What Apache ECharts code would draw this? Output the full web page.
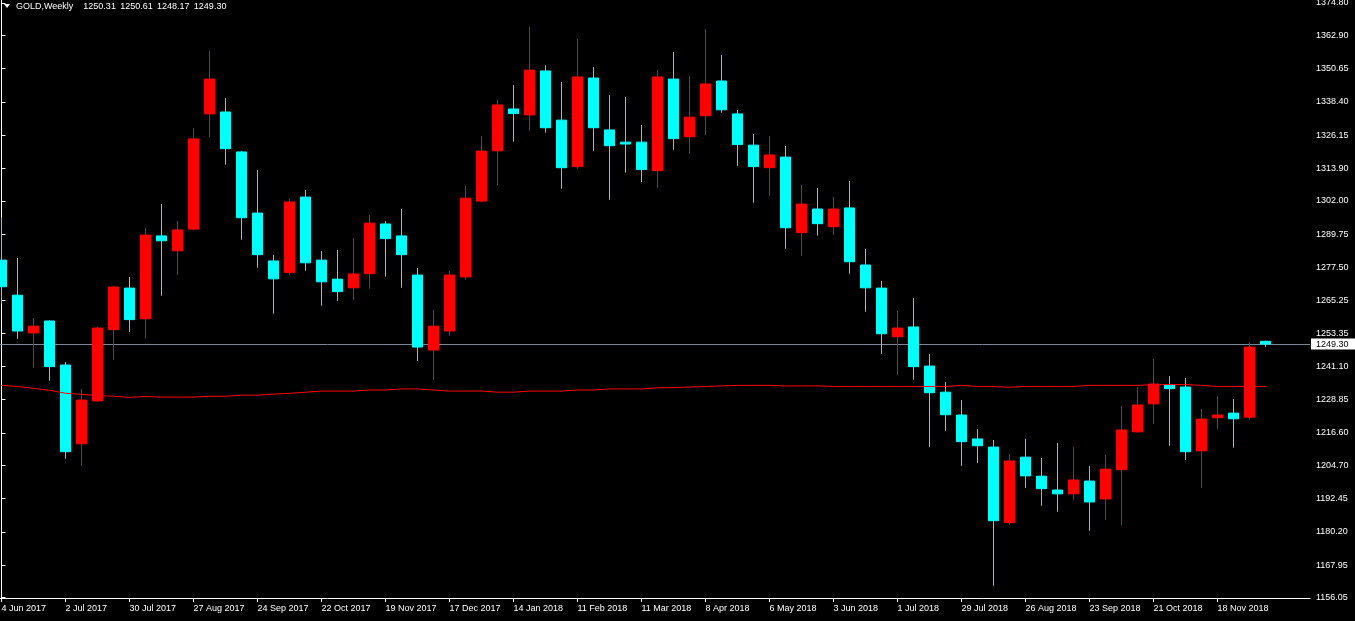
<!DOCTYPE html>
<html>
<head>
<meta charset="utf-8">
<script src="https://cdn.jsdelivr.net/npm/echarts@6/dist/echarts.min.js"></script>
<style>
html,body{margin:0;padding:0;background:#000;}
#c{width:1355px;height:621px;}
</style>
</head>
<body>
<div id="c"></div>
<script>
const symbolName = 'GOLD';
const timeframe = 'Weekly';

// weekly OHLC, one entry per week starting 4 Jun 2017
const opens = [
  1280.2, 1267.3, 1253.4, 1257.8, 1241.6, 1212.6, 1228.4, 1254.6, 1269.9, 1258.6,
  1289.1, 1283.6, 1291.6, 1334.0, 1334.7, 1320.0, 1297.5, 1279.9, 1275.6, 1303.4,
  1280.2, 1273.2, 1270.0, 1275.2, 1293.5, 1289.1, 1274.7, 1247.1, 1254.1, 1274.0,
  1301.9, 1320.4, 1335.8, 1333.6, 1349.8, 1331.7, 1314.6, 1347.2, 1328.1, 1323.6,
  1323.6, 1313.1, 1346.8, 1325.6, 1333.3, 1346.1, 1334.0, 1322.5, 1314.2, 1318.1,
  1290.3, 1299.0, 1292.5, 1299.4, 1278.4, 1269.9, 1252.0, 1255.6, 1241.2, 1231.6,
  1223.2, 1214.4, 1211.4, 1183.6, 1207.7, 1200.7, 1195.6, 1194.2, 1198.9, 1192.3,
  1203.1, 1217.0, 1227.3, 1234.2, 1233.5, 1210.0, 1222.2, 1223.9, 1222.4, 1250.31
];
const highs = [
  1295.9, 1281.0, 1258.9, 1258.1, 1242.7, 1232.8, 1255.7, 1270.7, 1274.0, 1292.0,
  1300.8, 1294.6, 1328.8, 1357.1, 1339.8, 1320.3, 1313.3, 1282.1, 1302.7, 1306.0,
  1283.5, 1283.9, 1288.3, 1296.8, 1294.6, 1299.0, 1277.3, 1261.8, 1276.2, 1307.5,
  1325.9, 1339.1, 1344.6, 1366.0, 1351.9, 1345.7, 1361.6, 1351.2, 1340.9, 1340.2,
  1329.9, 1350.1, 1356.8, 1347.9, 1365.2, 1355.7, 1335.4, 1326.6, 1325.9, 1322.2,
  1307.8, 1306.7, 1303.4, 1309.3, 1284.3, 1272.5, 1261.5, 1266.2, 1245.6, 1235.3,
  1228.7, 1218.0, 1214.0, 1208.8, 1214.4, 1207.4, 1212.9, 1211.4, 1204.4, 1208.5,
  1226.5, 1233.5, 1243.8, 1237.5, 1236.8, 1225.4, 1230.2, 1229.1, 1250.0, 1250.61
];
const lows = [
  1264.3, 1251.2, 1240.6, 1235.8, 1207.1, 1204.5, 1228.1, 1243.5, 1253.8, 1251.3,
  1267.1, 1274.8, 1291.3, 1325.5, 1315.3, 1287.7, 1277.4, 1260.5, 1274.8, 1276.3,
  1263.4, 1265.2, 1265.6, 1269.7, 1274.1, 1270.0, 1243.1, 1236.1, 1252.4, 1273.0,
  1301.5, 1307.8, 1323.8, 1327.8, 1327.1, 1306.5, 1313.8, 1320.4, 1302.4, 1312.4,
  1308.9, 1306.8, 1320.8, 1319.3, 1326.3, 1334.4, 1314.9, 1301.3, 1303.9, 1284.4,
  1281.8, 1289.2, 1289.5, 1275.2, 1261.2, 1245.7, 1238.0, 1236.2, 1211.5, 1217.4,
  1204.5, 1205.6, 1160.4, 1182.8, 1196.4, 1189.8, 1187.6, 1192.0, 1180.6, 1184.7,
  1182.8, 1216.8, 1220.0, 1211.9, 1206.7, 1196.4, 1218.1, 1211.2, 1221.5, 1248.17
];
const closes = [
  1270.4, 1254.1, 1255.9, 1241.0, 1209.7, 1228.7, 1255.2, 1270.3, 1258.3, 1289.4,
  1287.3, 1291.3, 1324.8, 1346.8, 1321.2, 1295.8, 1282.2, 1273.3, 1301.6, 1279.2,
  1272.2, 1268.6, 1275.1, 1293.8, 1288.1, 1282.2, 1248.2, 1255.9, 1274.7, 1303.0,
  1320.3, 1337.3, 1334.1, 1350.1, 1328.9, 1314.2, 1347.6, 1328.9, 1322.3, 1322.9,
  1313.5, 1347.6, 1324.9, 1332.8, 1345.0, 1335.5, 1322.7, 1314.6, 1318.9, 1292.1,
  1300.8, 1293.6, 1299.0, 1279.6, 1270.0, 1253.1, 1255.2, 1241.0, 1231.4, 1223.3,
  1213.4, 1211.9, 1184.3, 1206.3, 1200.8, 1196.1, 1194.2, 1199.3, 1191.2, 1203.3,
  1217.7, 1226.9, 1234.6, 1232.9, 1209.7, 1221.7, 1223.2, 1221.8, 1248.2, 1249.30
];
// red moving average line
const maValues = [
  1234.1, 1233.7, 1233.0, 1232.3, 1231.2, 1230.8, 1230.4, 1230.1, 1229.7, 1230.0,
  1229.8, 1229.8, 1229.8, 1230.1, 1230.1, 1230.5, 1230.5, 1230.9, 1231.2, 1231.6,
  1232.0, 1232.0, 1232.0, 1232.4, 1232.4, 1232.8, 1232.8, 1232.4, 1232.0, 1232.0,
  1232.0, 1231.6, 1231.6, 1232.0, 1232.0, 1232.0, 1232.4, 1232.4, 1232.8, 1232.8,
  1232.8, 1233.2, 1233.3, 1233.5, 1233.7, 1233.9, 1234.1, 1234.1, 1234.1, 1233.9,
  1233.9, 1233.9, 1233.7, 1233.7, 1233.7, 1233.7, 1233.7, 1233.7, 1233.7, 1233.7,
  1234.1, 1233.7, 1233.7, 1233.4, 1233.7, 1233.7, 1233.7, 1233.7, 1234.1, 1234.1,
  1234.1, 1234.1, 1234.4, 1234.4, 1234.4, 1234.1, 1233.7, 1233.7, 1233.7, 1233.7
];
// date axis: week index of each label
const tickWeeks = [0, 4, 8, 12, 16, 20, 24, 28, 32, 36, 40, 44, 48, 52, 56, 60, 64, 68, 72, 76];
const tickLabels = [
  '4 Jun 2017', '2 Jul 2017', '30 Jul 2017', '27 Aug 2017', '24 Sep 2017',
  '22 Oct 2017', '19 Nov 2017', '17 Dec 2017', '14 Jan 2018', '11 Feb 2018',
  '11 Mar 2018', '8 Apr 2018', '6 May 2018', '3 Jun 2018', '1 Jul 2018',
  '29 Jul 2018', '26 Aug 2018', '23 Sep 2018', '21 Oct 2018', '18 Nov 2018'
];
const priceTicks = [
  1156.05, 1167.95, 1180.20, 1192.45, 1204.70, 1216.60, 1228.85, 1241.10, 1253.35, 1265.25,
  1277.50, 1289.75, 1302.00, 1313.90, 1326.15, 1338.40, 1350.65, 1362.90, 1374.80
];

const FONT = 'Liberation Sans, Arial, sans-serif';
const last = opens.length - 1;
const candleData = opens.map((o, i) => [i, o, closes[i], lows[i], highs[i]]);
const maData = maValues.map((v, i) => [i, v]);
const headerText = symbolName + ',' + timeframe + '    ' +
  [opens[last], highs[last], lows[last], closes[last]].map(v => v.toFixed(2)).join(' \u2009');

const chart = echarts.init(document.getElementById('c'), null, {renderer: 'canvas'});
chart.setOption({
  backgroundColor: '#000000',
  animation: false,
  textStyle: {fontFamily: FONT},
  title: {
    text: headerText, left: 16, top: 2, padding: 0,
    textStyle: {color: '#ffffff', fontSize: 9, fontWeight: 'normal', fontFamily: FONT}
  },
  graphic: [{
    type: 'polygon', silent: true,
    shape: {points: [[4, 4], [10, 4], [7, 8]]},
    style: {fill: '#ffffff'}
  }],
  grid: {left: 0, right: 45, top: 0, bottom: 23, show: false, containLabel: false, outerBoundsMode: 'none'},
  xAxis: {
    type: 'value', min: -0.09375, max: 81.78125,
    splitLine: {show: false},
    axisLine: {show: true, lineStyle: {color: '#ffffff', width: 1}},
    axisTick: {show: true, customValues: tickWeeks, length: 4, lineStyle: {color: '#ffffff'}},
    axisLabel: {
      show: true, customValues: tickWeeks, color: '#ffffff', fontSize: 9, fontFamily: FONT,
      align: 'left', margin: 6,
      formatter: v => { const i = tickWeeks.indexOf(Math.round(v)); return i >= 0 ? tickLabels[i] : ''; }
    }
  },
  yAxis: {
    type: 'value', position: 'right', min: 1155.87, max: 1375.90,
    splitLine: {show: false},
    axisLine: {show: true, lineStyle: {color: '#ffffff', width: 1}},
    axisTick: {show: true, customValues: priceTicks, length: 4, lineStyle: {color: '#ffffff'}},
    axisLabel: {
      show: true, customValues: priceTicks, color: '#ffffff', fontSize: 9, fontFamily: FONT,
      margin: 6, formatter: v => Number(v).toFixed(2)
    }
  },
  series: [
    {
      type: 'candlestick', name: symbolName, data: candleData, barWidth: 10, clip: true,
      itemStyle: {color: '#ff0000', color0: '#00ffff', borderColor: '#ff0000', borderColor0: '#00ffff', borderWidth: 1},
      emphasis: {disabled: true},
      markLine: {
        silent: true, animation: false, z: 1,
        symbol: ['none', 'none'],
        data: [{yAxis: closes[last]}],
        lineStyle: {color: '#778899', width: 1, type: 'solid'},
        label: {
          show: true, position: 'end', distance: 1,
          formatter: p => Number(p.value).toFixed(2),
          color: '#000000', backgroundColor: '#ffffff', fontSize: 9, fontFamily: FONT,
          padding: [1, 8, 1, 5]
        },
        emphasis: {disabled: true}
      }
    },
    {
      type: 'line', name: 'MA', data: maData, showSymbol: false, symbol: 'none', silent: true, z: 3,
      lineStyle: {color: '#ff0000', width: 1}, clip: true
    }
  ]
});
</script>
</body>
</html>
